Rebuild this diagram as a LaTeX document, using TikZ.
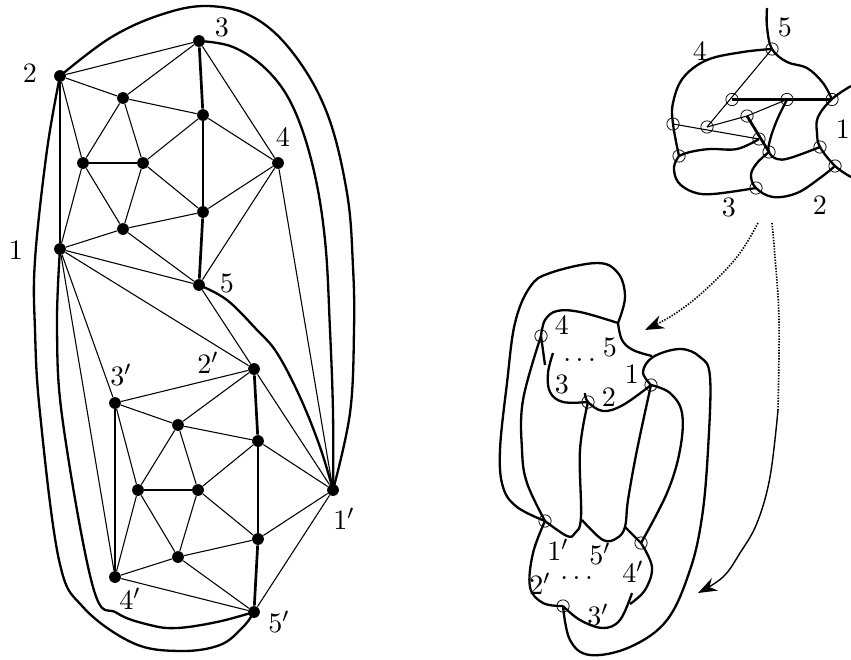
\documentclass[tikz,border=0pt]{standalone}
\usepackage{amsmath}
\usetikzlibrary{arrows.meta}

\begin{document}
\begin{tikzpicture}[
    x=0.39pt, y=-0.39pt,
    vtx/.style={circle, fill=black, inner sep=0pt, minimum size=4.6pt},
    ring/.style={circle, draw, line width=0.3pt, inner sep=0pt, minimum size=4.8pt},
    thinedge/.style={line width=0.42pt},
    boldedge/.style={line width=1.05pt},
    curve/.style={line width=0.9pt, line join=round},
    rounded/.style={smooth, tension=0.62},
    lab/.style={inner sep=0pt, font=\fontsize{11}{13}\selectfont},
    flowtip/.style={-{Stealth[length=2.6mm, width=1.9mm]}},
    flowdots/.style={line width=0.65pt, dash pattern=on 0.55pt off 0.55pt},
  ]
  \useasboundingbox (0,0) rectangle (851,659);

  % left graph, upper half
  \node[vtx] (n2) at (60,76) {};
  \node[vtx] (n3) at (199,41) {};
  \node[vtx] (ua) at (123,98) {};
  \node[vtx] (ub) at (203,115) {};
  \node[vtx] (uc) at (83,163) {};
  \node[vtx] (ud) at (143,163) {};
  \node[vtx] (n4) at (278,163) {};
  \node[vtx] (ue) at (203,212) {};
  \node[vtx] (uf) at (123,229) {};
  \node[vtx] (n1) at (60,249) {};
  \node[vtx] (n5) at (199,285) {};

  % left graph, lower half
  \node[vtx] (m2) at (254,369) {};
  \node[vtx] (m3) at (115,403) {};
  \node[vtx] (la) at (178,425) {};
  \node[vtx] (lb) at (258,441) {};
  \node[vtx] (lc) at (138,490) {};
  \node[vtx] (ld) at (198,490) {};
  \node[vtx] (m1) at (333,490) {};
  \node[vtx] (le) at (258,539) {};
  \node[vtx] (lf) at (178,557) {};
  \node[vtx] (m4) at (115,577) {};
  \node[vtx] (m5) at (254,612) {};

  \foreach \a/\b in {n2/n3, n2/ua, n3/ua, ua/ub, ua/uc, ua/ud, n2/uc, uc/n1, uc/uf, ud/uf, ud/ub, ud/ue,
      ub/n4, n3/n4, n4/ue, n4/n5, ue/uf, uf/n1, uf/n5, n1/n5, n1/m2, n5/m2, n4/m1, n1/m3, n1/m4,
      m2/m3, m3/la, m2/la, la/lb, la/lc, la/ld, m3/lc, lc/m4, lc/lf, ld/lf, ld/lb, ld/le,
      lb/m1, m2/m1, m1/le, m1/m5, le/lf, lf/m4, lf/m5, m4/m5}
    \draw[thinedge] (\a) -- (\b);
  \foreach \a/\b in {uc/ud, n3/ub, ub/ue, ue/n5, n1/n2, lc/ld, m2/lb, lb/le, le/m5, m3/m4}
    \draw[boldedge] (\a) -- (\b);

  \draw[curve] plot[rounded] coordinates {(n2.center) (47,150) (35,260) (35,330) (40,413) (59,560) (83,607) (133,643) (180,651) (220,645) (243,627) (m5.center)};
  \draw[curve] plot[rounded] coordinates {(n1.center) (57,330) (63,423) (93,587) (117,613) (150,625) (177,628) (217,622) (m5.center)};
  \draw[curve] plot[rounded] coordinates {(n2.center) (110,38) (160,15) (207,6) (253,17) (293,53) (327,113) (347,193) (353,267) (354,330) (350,413) (m1.center)};
  \draw[curve] plot[rounded] coordinates {(n3.center) (233,47) (267,70) (293,107) (313,167) (325,240) (330,330) (333,413) (m1.center)};
  \draw[curve] plot[rounded] coordinates {(n5.center) (227,300) (257,330) (277,353) (300,397) (320,447) (m1.center)};

  \node[lab] (l1) at (16,250) {$1$};
  \node[lab] (l2) at (30,73) {$2$};
  \node[lab] (l3) at (222,27) {$3$};
  \node[lab] (l4) at (283,137) {$4$};
  \node[lab] (l5) at (227,283) {$5$};
  \node[lab] (lp1) at (344,519) {$1'$};
  \node[lab] (lp2) at (208,363) {$2'$};
  \node[lab] (lp3) at (121,375) {$3'$};
  \node[lab] (lp4) at (130,599) {$4'$};
  \node[lab] (lp5) at (279,622) {$5'$};

  % top right piece
  \node[ring] (tp5) at (772,49) {};
  \node[ring] (tq1) at (732,99.5) {};
  \node[ring] (tq2) at (787,99.5) {};
  \node[ring] (tp1) at (832,99.5) {};
  \node[ring] (tq3) at (747,116) {};
  \node[ring] (tp4) at (673,124) {};
  \node[ring] (tq4) at (707,127) {};
  \node[ring] (tq5) at (759,139) {};
  \node[ring] (tq6) at (769,152) {};
  \node[ring] (tp6) at (679,156) {};
  \node[ring] (tp7) at (820,147) {};
  \node[ring] (tp8) at (835,166) {};
  \node[ring] (tp9) at (756,188) {};
  \coordinate (ttop) at (767,8);
  \coordinate (tout) at (851,86);
  \coordinate (tend) at (851,177);

  \foreach \a/\b in {tp5/tq4, tq4/tq3, tq3/tq2, tp4/tq5}
    \draw[thinedge] (\a.center) -- (\b.center);
  \foreach \a/\b in {tq1/tq2, tq2/tp1, tq3/tq6}
    \draw[boldedge] (\a.center) -- (\b.center);

  \draw[curve] plot[rounded] coordinates {(ttop) (767,27) (tp5.center) (787,62) (807,68) (823,83) (tp1.center)};
  \draw[curve] plot[rounded] coordinates {(tout) (832,99) (818,117) (817,133) (tp7.center) (tp8.center) (tend)};
  \draw[curve] plot[rounded] coordinates {(tp5.center) (743,52) (707,60) (683,78) (673,103) (tp4.center) (tp6.center)};
  \draw[curve] plot[rounded] coordinates {(tp6.center) (690,152) (710,149) (737,149) (tq5.center)};
  \draw[curve] plot[rounded] coordinates {(tp6.center) (674,167) (678,182) (693,192) (713,194) (tp9.center)};
  \draw[curve] plot[rounded] coordinates {(tq2.center) (777,120) (770,140) (tq6.center) (777,159) (790,158) (tp7.center)};
  \draw[curve] plot[rounded] coordinates {(tq6.center) (757,163) (751,175) (tp9.center) (773,197) (797,193) (820,178) (tp8.center)};

  \node[lab] (t5) at (785,27) {$5$};
  \node[lab] (t4) at (700,51) {$4$};
  \node[lab] (t3) at (729,207) {$3$};
  \node[lab] (t2) at (820,205) {$2$};
  \node[lab] (t1) at (843,129) {$1$};

  % dotted arrows
  \coordinate (afrom) at (758,223);
  \coordinate (ato) at (645,330);
  \coordinate (bfrom) at (772,223);
  \coordinate (bmid) at (778,410);
  \coordinate (bto) at (698,593);
  \draw[flowdots, flowtip] plot[rounded] coordinates {(afrom) (737,257) (703,292) (673,315) (ato)};
  \draw[flowdots] plot[rounded] coordinates {(bfrom) (775,257) (779,320) (bmid)};
  \draw[line width=0.55pt, flowtip] plot[rounded] coordinates {(bmid) (770,477) (757,523) (740,553) (723,577) (bto)};

  % bottom right piece
  \node[ring] (ra) at (541,336) {};
  \node[ring] (rb) at (588,402) {};
  \node[ring] (rc) at (651,385) {};
  \node[ring] (rd) at (545,521) {};
  \node[ring] (re) at (641,543) {};
  \node[ring] (rf) at (563,606) {};
  \coordinate (rj) at (618,323);
  \coordinate (rs1) at (545,365);
  \coordinate (rs2) at (553,353);
  \coordinate (rs3) at (585,393);
  \coordinate (rs4) at (582,520);
  \coordinate (rs5) at (630,604);
  \coordinate (rs6) at (632,593);
  \coordinate (rs7) at (652,356);
  \coordinate (rs8) at (625,527);

  \draw[curve] plot[rounded] coordinates {(rd.center) (517,507) (503,487) (500,450) (507,383) (515,323) (530,287) (550,273) (597,263) (618,273) (625,297) (rj)};
  \draw[curve] plot[rounded] coordinates {(ra.center) (545,320) (557,311) (580,312) (rj)};
  \draw[curve] plot[rounded] coordinates {(rj) (622,340) (633,350) (rs7)};
  \draw[curve] plot[rounded] coordinates {(ra.center) (rs1)};
  \draw[curve] plot[rounded] coordinates {(rs2) (548,373) (550,392) (563,402) (rb.center)};
  \draw[curve] plot[rounded] coordinates {(rs3) (rb.center) (603,411) (623,405) (rc.center)};
  \draw[curve] plot[rounded] coordinates {(rc.center) (643,372) (653,357) (680,349) (700,357) (710,377) (708,450) (702,517) (690,570) (667,620) (630,647) (590,655) (570,640) (rf.center)};
  \draw[curve] plot[rounded] coordinates {(rc.center) (670,393) (682,413) (680,450) (667,493) (re.center)};
  \draw[curve] plot[rounded] coordinates {(rc.center) (637,450) (628,500) (rs8) (617,538) (603,540) (rs4)};
  \draw[curve] plot[rounded] coordinates {(rb.center) (580,450) (581,517) (575,533) (567,536) (rd.center)};
  \draw[curve] plot[rounded] coordinates {(ra.center) (523,400) (522,450) (527,483) (rd.center)};
  \draw[curve] plot[rounded] coordinates {(rd.center) (533,553) (530,587) (543,603) (rf.center)};
  \draw[curve] (rs8) -- (re.center);
  \draw[curve] plot[rounded] coordinates {(re.center) (652,567) (645,590) (rs5)};
  \draw[curve] plot[rounded] coordinates {(rf.center) (580,620) (603,628) (620,620) (rs6)};

  \node[lab] (r4) at (562,325) {$4$};
  \node[lab] (r5) at (610,347) {$5$};
  \node[lab] (r1) at (632,374) {$1$};
  \node[lab] (r3) at (562,384) {$3$};
  \node[lab] (r2) at (609,397) {$2$};
  \node[lab] (rdots) at (582,360) {$\dots$};
  \node[lab] (rp1) at (558,550) {$1'$};
  \node[lab] (rp5) at (600,554) {$5'$};
  \node[lab] (rp4) at (633,572) {$4'$};
  \node[lab] (rp2) at (540,584) {$2'$};
  \node[lab] (rpdots) at (579,578) {$\dots$};
  \node[lab] (rp3) at (598,615) {$3'$};
\end{tikzpicture}
\end{document}
